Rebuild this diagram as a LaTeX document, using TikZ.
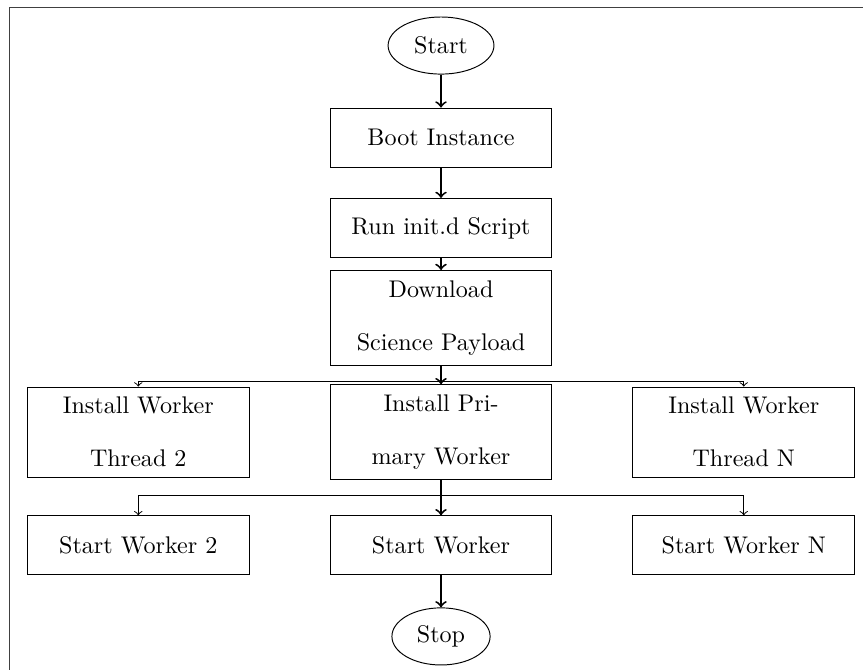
\documentclass[tikz,border=0pt]{standalone}
\usepackage{tikz}
\usetikzlibrary{positioning,shapes.geometric}

\begin{document}
\begin{tikzpicture}[
  font=\fontsize{10pt}{22pt}\selectfont,
  term/.style={draw, ellipse, minimum height=23.7pt, inner xsep=4.4pt},
  proc/.style={draw, rectangle, text width=3cm, align=center, minimum height=24.5pt, inner ysep=4.2pt},
  arr/.style={->, thick},
  branch/.style={->, thin},
  frame/.style={draw=black!75, line width=0.5pt}
]
% ---------------- main chain ----------------
\node[term] (start) {Start};
\node[proc, below=13.7pt of start] (boot) {Boot Instance};
\node[proc, below=12.6pt of boot] (initd) {Run init.d Script};
\node[proc, below=5pt of initd] (fetch) {Download\\Science Payload};
\node[proc, below=7.6pt of fetch] (primary) {Install Pri-\\mary Worker};
\node[proc, below=14.6pt of primary] (worker) {Start Worker};
\node[term, below=13.3pt of worker] (stop) {Stop};

% ---------------- side workers ----------------
\node[proc, left=33.2pt of primary] (thread2) {Install Worker\\Thread 2};
\node[proc, right=33.2pt of primary] (threadN) {Install Worker\\Thread N};
\node[proc, left=33.2pt of worker] (worker2) {Start Worker 2};
\node[proc, right=33.2pt of worker] (workerN) {Start Worker N};

\coordinate (split1) at ([yshift=-6.4pt]fetch.south);
\coordinate (split2) at ([yshift=-6.2pt]primary.south);

\draw[arr] (start) -- (boot);
\draw[arr] (boot) -- (initd);
\draw[arr] (initd) -- (fetch);
\draw[arr] (fetch) -- (primary);
\draw[branch] (split1) -| (thread2);
\draw[branch] (split1) -| (threadN);
\draw[arr] (primary) -- (worker);
\draw[branch] (split2) -| (worker2);
\draw[branch] (split2) -| (workerN);
\draw[arr] (worker) -- (stop);

% ---------------- page and frame ----------------
\useasboundingbox ([xshift=-183pt, yshift=18.9pt]start.center) rectangle ([xshift=175.1pt, yshift=-259.1pt]start.center);
\coordinate (frameTL) at ([xshift=-179pt, yshift=15.8pt]start.center);
\coordinate (frameBL) at ([xshift=-179pt, yshift=-262pt]start.center);
\coordinate (frameTR) at ([xshift=178pt, yshift=15.8pt]start.center);
\draw[frame] (frameBL) -- (frameTL) -- (frameTR);
\end{tikzpicture}
\end{document}
